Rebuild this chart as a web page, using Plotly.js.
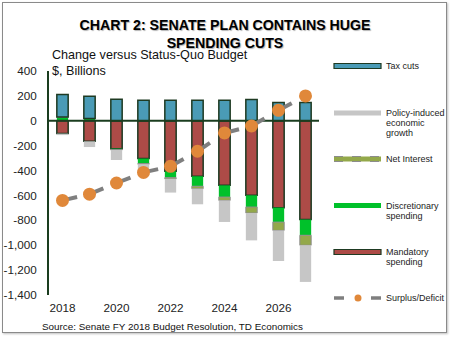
<!DOCTYPE html>
<html>
<head>
<meta charset="utf-8">
<script src="https://cdn.plot.ly/plotly-3.0.1.min.js"></script>
<style>
  html, body { margin: 0; padding: 0; background: #fff; }
  #chart { width: 450px; height: 337px; position: absolute; left: 0; top: 0; }
  #frame { position: absolute; left: 2px; top: 2px; width: 443px; height: 329px;
           border: 1.5px solid #8a8a8a; pointer-events: none; box-shadow: 1px 1px 2px rgba(0,0,0,0.25); }
</style>
</head>
<body>
<div id="chart"></div>
<div id="frame"></div>
<script>
// ---- data ----
const years = [2018, 2019, 2020, 2021, 2022, 2023, 2024, 2025, 2026, 2027];
const taxCuts = [181, 179, 173, 165, 165, 165, 165, 170, 146, 146];
const growth = [-12, -46, -80, -85, -110, -125, -173, -220, -246, -295];
const netInterest = [0, 0, -3, -5, -10, -20, -27, -48, -67, -80];
const discretionary = [30, 18, -8, -40, -51, -80, -94, -94, -116, -126];
const mandatory = [-103, -165, -224, -304, -406, -446, -519, -599, -698, -794];
const surplusDeficit = [-640, -590, -500, -415, -366, -245, -98, -42, 84, 200];

const yTickVals = [400, 200, 0, -200, -400, -600, -800, -1000, -1200, -1400];
const yTickLabels = ['400', '200', '0', '-200', '-400', '-600', '-800', '-1,000', '-1,200', '-1,400'];
const xTickVals = [2018, 2020, 2022, 2024, 2026];
const xTickLabels = ['2018', '2020', '2022', '2024', '2026'];

const seriesNames = {
  tax: 'Tax cuts',
  growth: 'Policy-induced<br>economic<br>growth',
  interest: 'Net Interest',
  disc: 'Discretionary<br>spending',
  mand: 'Mandatory<br>spending',
  surplus: 'Surplus/Deficit'
};

// ---- styles ----
const FONT = 'Liberation Sans, Arial, sans-serif';
const C = {
  tax: '#4a9bb6', growth: '#c6c6c6', interest: '#93a84a', disc: '#00c12a',
  mand: '#ad4b47', dot: '#e0883a', line: '#7f7f7f', border: '#1e3a22', axis: '#1a3d1f'
};

const W = 450, H = 337, L = 49, R = 131, T = 71, B = 42;
const pw = W - L - R, ph = H - T - B;
const px = x => (x - L) / pw;
const py = y => (H - B - y) / ph;

function barTrace(name, y, color, line) {
  return { type: 'bar', x: years, y: y, name: name, width: 0.42,
    marker: { color: color, line: line || { width: 0 } }, hoverinfo: 'skip', showlegend: false };
}

const traces = [
  barTrace(seriesNames.mand, mandatory, C.mand, { color: C.border, width: 1.5 }),
  barTrace(seriesNames.disc, discretionary, C.disc),
  barTrace(seriesNames.interest, netInterest, C.interest, { color: '#8c8c8c', width: 1 }),
  barTrace(seriesNames.growth, growth, C.growth),
  barTrace(seriesNames.tax, taxCuts, C.tax, { color: C.border, width: 1.5 })
];

// zero axis line drawn above bars
const xRange = [2017.5, 2027.5];
traces.push({ type: 'scatter', mode: 'lines', x: xRange, y: [0, 0],
  line: { color: C.axis, width: 2 }, hoverinfo: 'skip', showlegend: false });

// dashed connector: one dash starting at each point toward the next
for (let i = 0; i < years.length - 1; i++) {
  traces.push({ type: 'scatter', mode: 'lines', x: [years[i], years[i + 1]],
    y: [surplusDeficit[i], surplusDeficit[i + 1]],
    line: { color: C.line, width: 4, dash: '15px,300px' }, hoverinfo: 'skip', showlegend: false });
}
traces.push({ type: 'scatter', mode: 'markers', x: years, y: surplusDeficit, name: seriesNames.surplus,
  marker: { color: C.dot, size: 13 }, hoverinfo: 'skip', showlegend: false });

// ---- custom legend ----
const legendItems = [
  { name: seriesNames.tax, cy: 66, fill: C.tax, line: C.border },
  { name: seriesNames.growth, cy: 113, fill: C.growth, line: null },
  { name: seriesNames.interest, cy: 159, fill: C.interest, line: '#8c8c8c', dash: 'dash' },
  { name: seriesNames.disc, cy: 205.5, fill: C.disc, line: null },
  { name: seriesNames.mand, cy: 252, fill: C.mand, line: C.border },
  { name: seriesNames.surplus, cy: 298, surplus: true }
];
const shapes = [];
const annotations = [];
legendItems.forEach(it => {
  if (it.surplus) {
    shapes.push({ type: 'line', xref: 'paper', yref: 'paper', x0: px(334), x1: px(344), y0: py(it.cy), y1: py(it.cy),
      line: { color: C.line, width: 3.5 } });
    shapes.push({ type: 'line', xref: 'paper', yref: 'paper', x0: px(371), x1: px(381), y0: py(it.cy), y1: py(it.cy),
      line: { color: C.line, width: 3.5 } });
    shapes.push({ type: 'circle', xref: 'paper', yref: 'paper', x0: px(354.5), x1: px(361.5), y0: py(it.cy + 3.5), y1: py(it.cy - 3.5),
      fillcolor: C.dot, line: { width: 0 } });
  } else {
    shapes.push({ type: 'rect', xref: 'paper', yref: 'paper', x0: px(334), x1: px(381), y0: py(it.cy + 2.5), y1: py(it.cy - 2.5),
      fillcolor: it.fill, line: it.line ? { color: it.line, width: 1.2, dash: it.dash || 'solid' } : { width: 0 } });
  }
  it.name.split('<br>').forEach((ln, k) => {
    annotations.push({ xref: 'paper', yref: 'paper', x: px(384), y: py(it.cy + k * 10), xanchor: 'left', yanchor: 'middle',
      text: ln, showarrow: false, font: { family: FONT, size: 9, color: '#222' } });
  });
});

annotations.push({ xref: 'paper', yref: 'paper', x: px(50), y: py(55), xanchor: 'left', yanchor: 'middle',
  text: 'Change versus Status-Quo Budget', showarrow: false, font: { family: FONT, size: 12.6, color: '#111' } });
annotations.push({ xref: 'paper', yref: 'paper', x: px(50), y: py(71), xanchor: 'left', yanchor: 'middle',
  text: '$, Billions', showarrow: false, font: { family: FONT, size: 12.6, color: '#111' } });
annotations.push({ xref: 'paper', yref: 'paper', x: px(40), y: py(326), xanchor: 'left', yanchor: 'middle',
  text: 'Source: Senate FY 2018 Budget Resolution, TD Economics', showarrow: false,
  font: { family: FONT, size: 9.9, color: '#111' } });

const layout = {
  width: W, height: H,
  margin: { l: L, r: R, t: T, b: B, pad: 0 },
  paper_bgcolor: '#fff', plot_bgcolor: '#fff',
  barmode: 'relative',
  showlegend: false,
  title: { text: 'CHART 2: SENATE PLAN CONTAINS HUGE<br>SPENDING CUTS',
    font: { family: FONT, size: 14.2, color: '#000', weight: 'bold', shadow: '1px 1px 1px rgba(0,0,0,0.3)' },
    x: 0.5, xref: 'container', xanchor: 'center', y: 1 - 29.5 / H, yref: 'container', yanchor: 'middle' },
  xaxis: { range: xRange, tickvals: xTickVals, ticktext: xTickLabels, showline: false, showgrid: false,
    zeroline: false, ticks: '', ticklabelstandoff: 4,
    tickfont: { family: FONT, size: 11.7, color: '#222' }, fixedrange: true },
  yaxis: { range: [-1400, 400], tickvals: yTickVals, ticktext: yTickLabels, showline: true, linecolor: C.axis,
    linewidth: 2, showgrid: false, zeroline: false, ticks: '', ticklabelstandoff: 8,
    tickfont: { family: FONT, size: 11.7, color: '#222' }, fixedrange: true },
  shapes: shapes,
  annotations: annotations
};

Plotly.newPlot('chart', traces, layout, { staticPlot: true, displayModeBar: false });
</script>
</body>
</html>
